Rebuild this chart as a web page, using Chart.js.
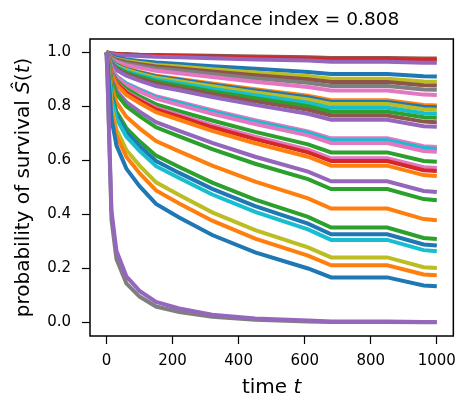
<!DOCTYPE html>
<html>
<head>
<meta charset="utf-8">
<script src="https://cdn.jsdelivr.net/npm/chart.js@4.4.1/dist/chart.umd.min.js"></script>
<style>
  html, body { margin: 0; padding: 0; background: #fff; }
  #wrap { width: 464px; height: 397px; }
</style>
</head>
<body>
<div id="wrap"><canvas id="chart" width="464" height="397"></canvas></div>
<script>
// survival curves, one row per curve (later rows drawn on top)
const titleText = 'concordance index = 0.808';
const times = [0, 3, 15, 30, 60, 100, 150, 220, 320, 450, 610, 680, 850, 960, 1000];
const xTicks = [0, 200, 400, 600, 800, 1000];
const yTicks = [0, 0.2, 0.4, 0.6, 0.8, 1.0];

const tab = {
  blue: '#1f77b4', orange: '#ff7f0e', green: '#2ca02c', red: '#d62728', purple: '#9467bd',
  brown: '#8c564b', pink: '#e377c2', grey: '#7f7f7f', olive: '#bcbd22', cyan: '#17becf'
};

const curveColors = [
  'brown', 'red', 'purple', 'blue', 'olive', 'brown', 'grey', 'pink',
  'orange', 'blue', 'olive', 'cyan', 'green', 'brown', 'purple',
  'pink', 'cyan', 'pink', 'green', 'pink', 'red', 'orange',
  'purple', 'green', 'orange', 'green', 'blue', 'cyan', 'olive', 'orange', 'blue',
  'grey', 'purple'
];

const curveValues = [
  [1, 1.000, 0.997, 0.995, 0.994, 0.992, 0.991, 0.990, 0.988, 0.985, 0.982, 0.980, 0.980, 0.978, 0.978],
  [1, 1.000, 0.996, 0.994, 0.992, 0.990, 0.988, 0.987, 0.984, 0.981, 0.978, 0.975, 0.975, 0.972, 0.972],
  [1, 0.999, 0.995, 0.992, 0.989, 0.987, 0.984, 0.982, 0.979, 0.974, 0.970, 0.966, 0.966, 0.962, 0.962],
  [1, 0.999, 0.987, 0.981, 0.974, 0.969, 0.963, 0.957, 0.949, 0.940, 0.928, 0.920, 0.920, 0.912, 0.911],
  [1, 0.998, 0.984, 0.976, 0.969, 0.962, 0.954, 0.948, 0.938, 0.926, 0.913, 0.903, 0.903, 0.893, 0.892],
  [1, 0.998, 0.982, 0.973, 0.964, 0.957, 0.948, 0.941, 0.930, 0.916, 0.901, 0.891, 0.891, 0.879, 0.878],
  [1, 0.998, 0.979, 0.969, 0.959, 0.951, 0.941, 0.933, 0.920, 0.905, 0.888, 0.876, 0.876, 0.863, 0.862],
  [1, 0.997, 0.976, 0.965, 0.953, 0.944, 0.932, 0.923, 0.909, 0.892, 0.872, 0.859, 0.859, 0.844, 0.843],
  [1, 0.997, 0.970, 0.955, 0.941, 0.928, 0.914, 0.902, 0.885, 0.864, 0.840, 0.823, 0.823, 0.806, 0.804],
  [1, 0.997, 0.969, 0.954, 0.938, 0.926, 0.911, 0.899, 0.881, 0.859, 0.834, 0.817, 0.817, 0.799, 0.797],
  [1, 0.996, 0.967, 0.951, 0.935, 0.922, 0.907, 0.894, 0.875, 0.852, 0.826, 0.809, 0.809, 0.790, 0.788],
  [1, 0.996, 0.965, 0.947, 0.930, 0.916, 0.900, 0.886, 0.866, 0.842, 0.814, 0.795, 0.795, 0.775, 0.773],
  [1, 0.996, 0.962, 0.943, 0.925, 0.910, 0.893, 0.878, 0.856, 0.831, 0.801, 0.781, 0.781, 0.760, 0.758],
  [1, 0.996, 0.959, 0.939, 0.920, 0.903, 0.885, 0.869, 0.846, 0.819, 0.788, 0.767, 0.767, 0.744, 0.742],
  [1, 0.995, 0.956, 0.935, 0.914, 0.896, 0.876, 0.860, 0.835, 0.806, 0.773, 0.751, 0.751, 0.727, 0.725],
  [1, 0.994, 0.941, 0.913, 0.886, 0.864, 0.838, 0.817, 0.786, 0.749, 0.708, 0.682, 0.682, 0.653, 0.650],
  [1, 0.993, 0.940, 0.911, 0.884, 0.861, 0.834, 0.813, 0.781, 0.744, 0.702, 0.675, 0.675, 0.646, 0.643],
  [1, 0.993, 0.938, 0.908, 0.879, 0.856, 0.829, 0.806, 0.773, 0.735, 0.693, 0.665, 0.665, 0.635, 0.632],
  [1, 0.992, 0.930, 0.897, 0.865, 0.838, 0.808, 0.783, 0.748, 0.706, 0.660, 0.630, 0.630, 0.598, 0.595],
  [1, 0.992, 0.925, 0.889, 0.855, 0.827, 0.795, 0.769, 0.731, 0.688, 0.640, 0.608, 0.608, 0.575, 0.572],
  [1, 0.991, 0.922, 0.886, 0.851, 0.822, 0.789, 0.762, 0.723, 0.679, 0.630, 0.598, 0.598, 0.564, 0.561],
  [1, 0.991, 0.918, 0.880, 0.843, 0.813, 0.779, 0.751, 0.710, 0.664, 0.614, 0.581, 0.581, 0.546, 0.543],
  [1, 0.989, 0.903, 0.858, 0.816, 0.781, 0.742, 0.710, 0.665, 0.614, 0.559, 0.523, 0.523, 0.487, 0.483],
  [1, 0.988, 0.895, 0.847, 0.801, 0.764, 0.723, 0.689, 0.642, 0.588, 0.531, 0.494, 0.494, 0.457, 0.453],
  [1, 0.986, 0.873, 0.816, 0.762, 0.719, 0.672, 0.634, 0.581, 0.522, 0.460, 0.422, 0.422, 0.383, 0.379],
  [1, 0.983, 0.848, 0.781, 0.720, 0.671, 0.618, 0.576, 0.518, 0.455, 0.391, 0.352, 0.352, 0.313, 0.309],
  [1, 0.981, 0.839, 0.768, 0.704, 0.653, 0.598, 0.554, 0.495, 0.431, 0.366, 0.327, 0.327, 0.289, 0.285],
  [1, 0.980, 0.830, 0.756, 0.689, 0.636, 0.579, 0.535, 0.474, 0.410, 0.345, 0.306, 0.306, 0.268, 0.264],
  [1, 0.976, 0.799, 0.715, 0.639, 0.581, 0.519, 0.472, 0.408, 0.342, 0.278, 0.241, 0.241, 0.205, 0.202],
  [1, 0.974, 0.783, 0.693, 0.614, 0.553, 0.489, 0.441, 0.377, 0.311, 0.248, 0.212, 0.212, 0.178, 0.175],
  [1, 0.970, 0.755, 0.656, 0.570, 0.505, 0.439, 0.389, 0.324, 0.260, 0.200, 0.167, 0.167, 0.137, 0.134],
  [1, 0.902, 0.381, 0.235, 0.145, 0.096, 0.059, 0.039, 0.021, 0.010, 0.004, 0.002, 0.002, 0.001, 0.001],
  [1, 0.910, 0.414, 0.266, 0.171, 0.117, 0.076, 0.052, 0.029, 0.015, 0.007, 0.004, 0.004, 0.002, 0.002]
];

const xLabelParts = [['time ', false], ['t', true]];
const yLabelParts = [['probability of survival ', false], ['\u015C', true], ['(', false], ['t', true], [')', false]];

const FONT = '"DejaVu Sans", "Liberation Sans", sans-serif';

function drawMixed(ctx, parts, cx, cy, size) {
  let total = 0;
  parts.forEach(p => {
    ctx.font = (p[1] ? 'italic ' : '') + size + 'px ' + FONT;
    total += ctx.measureText(p[0]).width;
  });
  let x = cx - total / 2;
  ctx.textAlign = 'left';
  ctx.textBaseline = 'middle';
  parts.forEach(p => {
    ctx.font = (p[1] ? 'italic ' : '') + size + 'px ' + FONT;
    ctx.fillText(p[0], x, cy);
    x += ctx.measureText(p[0]).width;
  });
}

const framePlugin = {
  id: 'frame',
  afterDraw(chart) {
    const { ctx, chartArea: a } = chart;
    ctx.save();
    ctx.strokeStyle = '#000';
    ctx.lineWidth = 1.5;
    ctx.strokeRect(a.left, a.top, a.right - a.left, a.bottom - a.top);

    ctx.fillStyle = '#000';
    ctx.font = '18.5px ' + FONT;
    ctx.textAlign = 'center';
    ctx.textBaseline = 'middle';
    ctx.fillText(titleText, (a.left + a.right) / 2, 20);

    drawMixed(ctx, xLabelParts, (a.left + a.right) / 2, 388, 20);

    ctx.translate(24, (a.top + a.bottom) / 2);
    ctx.rotate(-Math.PI / 2);
    drawMixed(ctx, yLabelParts, 0, 0, 20);
    ctx.restore();
  }
};

const n = curveValues.length;
const datasets = curveValues.map((vals, i) => ({
  data: vals.map((v, j) => ({ x: times[j], y: v })),
  borderColor: tab[curveColors[i]],
  borderWidth: 4,
  pointRadius: 0,
  tension: 0,
  fill: false,
  order: n - i
}));

new Chart(document.getElementById('chart'), {
  type: 'line',
  data: { datasets },
  plugins: [framePlugin],
  options: {
    responsive: false,
    animation: false,
    layout: { padding: { top: 39, right: 2, left: 0, bottom: 0 } },
    plugins: { legend: { display: false }, tooltip: { enabled: false }, title: { display: false } },
    scales: {
      x: {
        type: 'linear',
        min: -50, max: 1050,
        afterBuildTicks: s => { s.ticks = xTicks.map(v => ({ value: v })); },
        afterFit: s => { s.height = 61; },
        grid: { drawOnChartArea: false, drawTicks: true, tickLength: 8, tickColor: '#000', tickWidth: 1.2 },
        border: { display: false },
        ticks: { color: '#000', font: { family: FONT, size: 15 }, padding: 8, maxRotation: 0, callback: v => String(v) }
      },
      y: {
        type: 'linear',
        min: -0.05, max: 1.05,
        afterBuildTicks: s => { s.ticks = yTicks.map(v => ({ value: v })); },
        afterFit: s => { s.width = 90; },
        grid: { drawOnChartArea: false, drawTicks: true, tickLength: 8, tickColor: '#000', tickWidth: 1.2 },
        border: { display: false },
        ticks: { color: '#000', font: { family: FONT, size: 15 }, padding: 11, callback: v => Number(v).toFixed(1) }
      }
    }
  }
});
</script>
</body>
</html>
